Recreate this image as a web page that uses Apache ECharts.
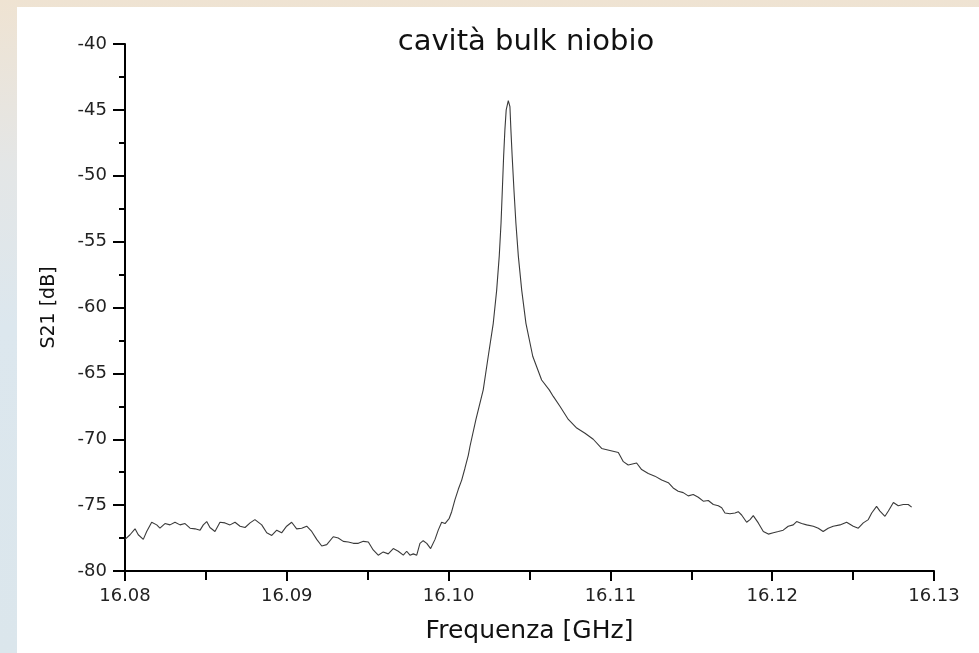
<!DOCTYPE html>
<html>
<head>
<meta charset="utf-8">
<script src="https://cdn.jsdelivr.net/npm/echarts@6/dist/echarts.min.js"></script>
<style>
html,body{margin:0;padding:0;width:979px;height:653px;overflow:hidden;}
#c{width:979px;height:653px;}
</style>
</head>
<body>
<div id="c"></div>
<script>
const titleText = "cavità bulk niobio";
const xName = "Frequenza [GHz]";
const yName = "S21 [dB]";
const xTicks = [16.08, 16.09, 16.10, 16.11, 16.12, 16.13];
const yTicks = [-80, -75, -70, -65, -60, -55, -50, -45, -40];

const freq = [
16.08000,16.08011,16.08031,16.08062,16.08082,16.08113,16.08134,16.08165,16.08196,16.08216,
16.08247,16.08278,16.08309,16.08340,16.08371,16.08402,16.08433,16.08464,16.08484,16.08505,
16.08525,16.08556,16.08587,16.08618,16.08649,16.08680,16.08711,16.08742,16.08773,16.08803,
16.08845,16.08876,16.08907,16.08938,16.08968,16.08999,16.09030,16.09061,16.09092,16.09123,
16.09154,16.09185,16.09216,16.09247,16.09287,16.09318,16.09349,16.09380,16.09411,16.09442,
16.09473,16.09504,16.09534,16.09565,16.09596,16.09627,16.09658,16.09689,16.09720,16.09741,
16.09761,16.09782,16.09803,16.09823,16.09843,16.09865,16.09889,16.09916,16.09936,16.09957,
16.09978,16.10004,16.10019,16.10039,16.10060,16.10081,16.10101,16.10122,16.10132,16.10169,
16.10214,16.10245,16.10276,16.10297,16.10313,16.10324,16.10332,16.10340,16.10348,16.10356,
16.10369,16.10379,16.10385,16.10393,16.10404,16.10416,16.10431,16.10452,16.10478,16.10520,
16.10575,16.10622,16.10647,16.10688,16.10740,16.10792,16.10843,16.10894,16.10946,16.10997,
16.11049,16.11080,16.11110,16.11162,16.11193,16.11234,16.11275,16.11317,16.11358,16.11388,
16.11419,16.11450,16.11481,16.11512,16.11543,16.11574,16.11605,16.11636,16.11667,16.11688,
16.11708,16.11739,16.11770,16.11790,16.11811,16.11842,16.11863,16.11883,16.11914,16.11945,
16.11976,16.12007,16.12038,16.12068,16.12099,16.12130,16.12151,16.12182,16.12213,16.12254,
16.12285,16.12315,16.12346,16.12377,16.12419,16.12460,16.12501,16.12532,16.12563,16.12594,
16.12615,16.12645,16.12666,16.12697,16.12718,16.12749,16.12779,16.12810,16.12841,16.12862
];
const s21 = [
-77.6,-77.5,-77.25,-76.8,-77.25,-77.6,-77.0,-76.3,-76.5,-76.75,
-76.4,-76.5,-76.3,-76.5,-76.4,-76.75,-76.8,-76.9,-76.5,-76.25,
-76.7,-77.0,-76.3,-76.35,-76.5,-76.3,-76.6,-76.7,-76.35,-76.1,
-76.5,-77.1,-77.3,-76.9,-77.1,-76.6,-76.3,-76.8,-76.75,-76.6,
-77.0,-77.6,-78.1,-78.0,-77.4,-77.5,-77.75,-77.8,-77.9,-77.9,
-77.75,-77.8,-78.4,-78.8,-78.55,-78.7,-78.3,-78.5,-78.8,-78.5,
-78.8,-78.7,-78.8,-77.9,-77.7,-77.9,-78.3,-77.6,-76.9,-76.3,
-76.4,-76.0,-75.5,-74.6,-73.8,-73.1,-72.2,-71.2,-70.55,-68.5,
-66.25,-63.7,-61.2,-58.7,-56.1,-53.6,-51.1,-48.55,-46.5,-45.0,
-44.3,-44.75,-46.5,-48.55,-51.1,-53.6,-56.1,-58.7,-61.2,-63.7,
-65.5,-66.25,-66.75,-67.5,-68.5,-69.15,-69.55,-70.0,-70.7,-70.85,
-71.0,-71.7,-71.95,-71.8,-72.3,-72.6,-72.8,-73.1,-73.3,-73.7,
-73.95,-74.05,-74.3,-74.2,-74.4,-74.7,-74.65,-74.95,-75.05,-75.2,
-75.6,-75.65,-75.6,-75.5,-75.75,-76.3,-76.1,-75.8,-76.35,-77.0,
-77.2,-77.1,-77.0,-76.9,-76.6,-76.5,-76.25,-76.4,-76.5,-76.6,
-76.75,-77.0,-76.75,-76.6,-76.5,-76.3,-76.6,-76.75,-76.35,-76.1,
-75.6,-75.1,-75.45,-75.85,-75.45,-74.8,-75.05,-74.95,-74.95,-75.15
];

const chart = echarts.init(document.getElementById('c'), null, {renderer:'canvas'});
const FONT = '"DejaVu Sans", "Liberation Sans", Arial, sans-serif';
const pts = freq.map((f,i)=>[f, s21[i]]);

chart.setOption({
  animation:false,
  backgroundColor:{type:'linear',x:0,y:0,x2:0,y2:1,colorStops:[
    {offset:0,color:'#efe3d2'},{offset:0.25,color:'#e4e6e6'},{offset:0.5,color:'#dce7ee'},{offset:1,color:'#dbe6ec'}]},
  graphic:[{type:'rect',left:17,top:7,shape:{width:962,height:646},style:{fill:'#ffffff'},z:-10,silent:true}],
  title:{text:titleText,left:521,top:23,textAlign:'center',
    textStyle:{fontFamily:FONT,fontSize:29,fontWeight:'normal',color:'#111'}},
  grid:{left:125,right:45,top:44,bottom:82,containLabel:false},
  xAxis:{type:'value',min:16.08,max:16.13,interval:0.01,
    name:xName,nameLocation:'middle',nameGap:48,
    nameTextStyle:{fontFamily:FONT,fontSize:25,color:'#111'},
    axisLine:{show:true,onZero:false,lineStyle:{color:'#000',width:2}},
    axisTick:{show:true,inside:false,length:10,lineStyle:{color:'#000',width:2}},
    minorTick:{show:true,splitNumber:2,length:9,lineStyle:{color:'#000',width:2}},
    splitLine:{show:false},
    axisLabel:{fontFamily:FONT,fontSize:18,color:'#222',margin:16,
      formatter:v=>{const t=xTicks.find(x=>Math.abs(x-v)<1e-6);return (t!==undefined?t:v).toFixed(2);}}},
  yAxis:{type:'value',min:-80,max:-40,interval:5,
    name:yName,nameLocation:'middle',nameGap:66,nameRotate:90,
    nameTextStyle:{fontFamily:FONT,fontSize:19,color:'#111'},
    axisLine:{show:true,onZero:false,lineStyle:{color:'#000',width:2}},
    axisTick:{show:true,inside:false,length:12,lineStyle:{color:'#000',width:2}},
    minorTick:{show:true,splitNumber:2,length:6,lineStyle:{color:'#000',width:2}},
    splitLine:{show:false},
    axisLabel:{fontFamily:FONT,fontSize:18,color:'#222',margin:18,
      formatter:v=>{const t=yTicks.find(y=>Math.abs(y-v)<1e-6);return String(t!==undefined?t:v);}}},
  series:[{type:'line',data:pts,showSymbol:false,symbol:'none',smooth:false,
    lineStyle:{color:'#3a3a3a',width:1.1},clip:true}]
});
</script>
</body>
</html>
